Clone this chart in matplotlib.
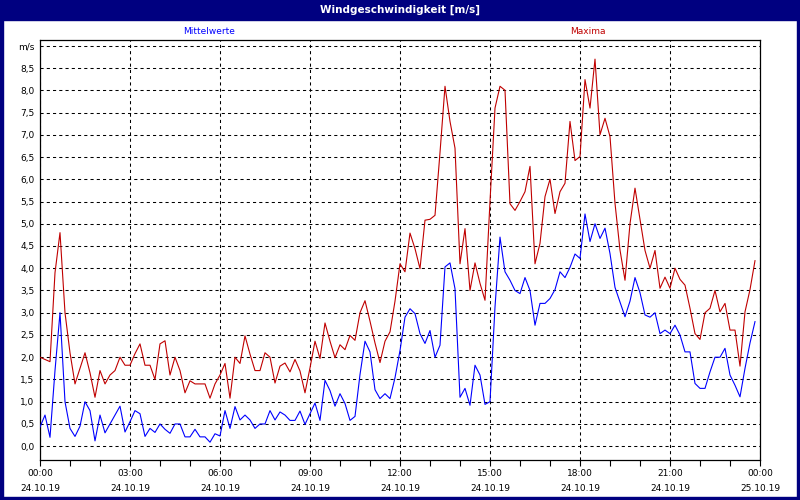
import matplotlib
matplotlib.use('Agg')
import matplotlib.pyplot as plt
from matplotlib.patches import Rectangle
import numpy as np

# 10-minute values, 24.10.19 00:00 .. 23:50
maxima = [
    2.0, 1.95, 1.9, 3.9, 4.8, 3.0, 2.1, 1.4, 1.75, 2.1, 1.65, 1.1,
    1.7, 1.4, 1.6, 1.7, 2.0, 1.82, 1.82, 2.08, 2.3, 1.82, 1.82, 1.5,
    2.3, 2.37, 1.6, 2.0, 1.7, 1.2, 1.47, 1.4, 1.4, 1.4, 1.08, 1.4,
    1.6, 1.86, 1.08, 2.0, 1.86, 2.48, 2.07, 1.7, 1.7, 2.1, 2.0, 1.42,
    1.8, 1.87, 1.67, 1.95, 1.69, 1.2, 1.76, 2.36, 1.97, 2.77, 2.36, 1.99,
    2.28, 2.17, 2.49, 2.38, 3.0, 3.27, 2.81, 2.32, 1.88, 2.36, 2.57, 3.26,
    4.1, 3.92, 4.79, 4.44, 3.99, 5.08, 5.1, 5.19, 6.6, 8.09, 7.3, 6.7,
    4.1, 4.89, 3.5, 4.12, 3.66, 3.28, 5.5, 7.6, 8.09, 8.0, 5.45, 5.3,
    5.5, 5.72, 6.29, 4.1, 4.56, 5.61, 6.0, 5.23, 5.72, 5.91, 7.3, 6.42,
    6.51, 8.24, 7.6, 8.7, 7.0, 7.37, 6.96, 5.46, 4.41, 3.73, 5.0, 5.8,
    5.1, 4.4, 4.0, 4.4, 3.55, 3.8, 3.55, 4.0, 3.75, 3.62, 3.1, 2.53,
    2.4, 3.0, 3.1, 3.5, 3.02, 3.21, 2.61, 2.61, 1.8, 3.02, 3.52, 4.17,
]
mittelwerte = [
    0.43, 0.7, 0.2, 1.7, 3.0, 1.0, 0.4, 0.22, 0.45, 1.0, 0.8, 0.12,
    0.7, 0.3, 0.5, 0.7, 0.9, 0.32, 0.55, 0.8, 0.73, 0.22, 0.4, 0.31,
    0.5, 0.38, 0.29, 0.5, 0.5, 0.21, 0.21, 0.38, 0.21, 0.21, 0.09, 0.28,
    0.23, 0.8, 0.4, 0.89, 0.59, 0.7, 0.59, 0.4, 0.5, 0.5, 0.8, 0.59,
    0.77, 0.7, 0.58, 0.58, 0.79, 0.49, 0.73, 0.97, 0.58, 1.48, 1.25, 0.9,
    1.18, 0.96, 0.58, 0.67, 1.61, 2.36, 2.12, 1.27, 1.07, 1.18, 1.07, 1.54,
    2.15, 2.9, 3.09, 2.98, 2.53, 2.31, 2.6, 2.0, 2.27, 4.03, 4.12, 3.54,
    1.1, 1.3, 0.92, 1.82, 1.6, 0.94, 1.0, 3.13, 4.7, 3.92, 3.73, 3.5,
    3.43, 3.79, 3.5, 2.72, 3.21, 3.21, 3.32, 3.52, 3.92, 3.79, 4.02, 4.32,
    4.22, 5.22, 4.6, 5.0, 4.67, 4.9, 4.33, 3.57, 3.24, 2.91, 3.26, 3.79,
    3.45, 2.95, 2.9, 3.0, 2.53, 2.61, 2.53, 2.72, 2.5, 2.12, 2.12, 1.41,
    1.3, 1.3, 1.67, 2.0, 2.0, 2.2, 1.6, 1.37, 1.11, 1.75, 2.32, 2.8,
]
hours = np.arange(len(maxima)) / 6.0

tick_hours = [0, 3, 6, 9, 12, 15, 18, 21, 24]
time_labels = ['00:00', '03:00', '06:00', '09:00', '12:00', '15:00', '18:00', '21:00', '00:00']
date_labels = ['24.10.19'] * 8 + ['25.10.19']

y_ticks = [i * 0.5 for i in range(19)]
y_labels = [f'{v:.1f}'.replace('.', ',') for v in y_ticks[:-1]] + ['m/s']

navy = '#000080'
red = '#c00000'
blue = '#0000ff'

plt.rcParams['font.family'] = 'DejaVu Sans'

fig = plt.figure(figsize=(8, 5), dpi=100)
fig.patch.set_facecolor('white')

# window frame + title bar
fig.patches.append(Rectangle((0, 1 - 20 / 500), 1, 20 / 500, transform=fig.transFigure,
                             color=navy, zorder=0))
for x0, y0, w, h in [(0, 0, 3 / 800, 1), (1 - 3 / 800, 0, 3 / 800, 1), (0, 0, 1, 3 / 500)]:
    fig.patches.append(Rectangle((x0, y0), w, h, transform=fig.transFigure, color=navy, zorder=0))
fig.text(0.5, 1 - 10 / 500, 'Windgeschwindigkeit [m/s]', color='white', fontsize=7.5,
         fontweight='bold', ha='center', va='center')

ax = fig.add_axes([40 / 800, 40 / 500, 720 / 800, 420 / 500])
ax.plot(hours, mittelwerte, color=blue, lw=0.8, zorder=3)
ax.plot(hours, maxima, color=red, lw=0.8, zorder=3)

ax.set_xlim(0, 24)
ax.set_ylim(-0.31, 9.13)

ax.set_yticks(y_ticks)
ax.set_yticklabels(y_labels)
ax.set_xticks(tick_hours)
ax.set_xticklabels([f'{t}\n\n{d}' for t, d in zip(time_labels, date_labels)], linespacing=0.8)
ax.set_xticks(range(25), minor=True)

ax.tick_params(axis='y', length=0, pad=4, labelsize=6.5)
ax.tick_params(axis='x', which='both', length=4, width=0.8, direction='out', pad=2.5, labelsize=6.5)
ax.grid(True, which='major', color='black', linestyle=(0, (3, 3)), linewidth=0.75)
for s in ax.spines.values():
    s.set_linewidth(0.9)

fig.text(209 / 800, 1 - 31 / 500, 'Mittelwerte', color=blue, fontsize=6.5, ha='center', va='center')
fig.text(588 / 800, 1 - 31 / 500, 'Maxima', color=red, fontsize=6.5, ha='center', va='center')

fig.savefig('out.png', dpi=100)
